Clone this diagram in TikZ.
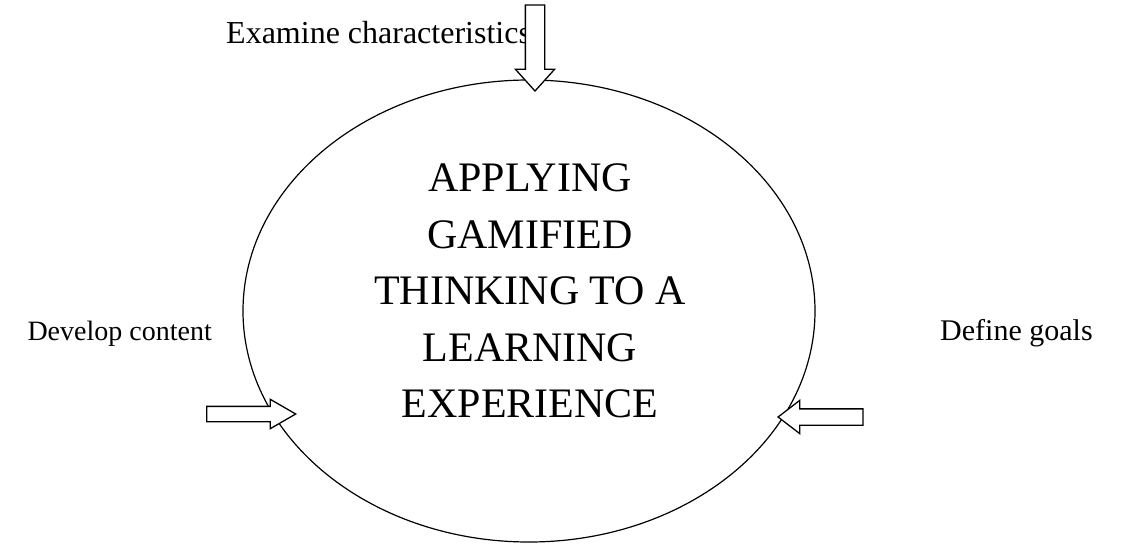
\documentclass[tikz,border=0pt]{standalone}
\usepackage{fontspec}
\setmainfont{Liberation Serif}
\usepackage{tikz}
\usetikzlibrary{shapes,arrows,positioning}

\begin{document}
\begin{tikzpicture}[
    x=1pt, y=-1pt,
    every node/.style={align=center},
    core/.style={ellipse, draw, line width=1.2pt, minimum width=572pt, minimum height=462pt, inner sep=0pt},
    coretext/.style={font=\fontsize{42}{56.5}\selectfont, inner sep=0pt},
    stage/.style={font=\fontsize{#1}{36}\selectfont, inner sep=0pt},
    blockarrow/.style={single arrow, draw, fill=white, line width=1.3pt, inner xsep=0pt, minimum height=#1}
]
\useasboundingbox (0,0) rectangle (1131,545);

% Central cycle
\node[core] (cycle) at (529,311) {};
\node[coretext] (cycle_text) at (530,291) {APPLYING\\GAMIFIED\\THINKING TO A\\LEARNING\\EXPERIENCE};

% Stages around the cycle
\node[stage=32, anchor=base west] (stage_examine) at (226,44) {Examine characteristics};
\node[stage=28, anchor=base east] (stage_develop) at (212,340) {Develop content};
\node[stage=30, anchor=base west] (stage_define) at (940,340) {Define goals};

% Block arrows into the cycle
\node[blockarrow=86pt, inner ysep=9pt, single arrow head extend=10pt, single arrow tip angle=84, rotate=-90, anchor=tip] (arrow_examine) at (535,92) {};
\node[blockarrow=89pt, inner ysep=7pt, single arrow head extend=7pt, single arrow tip angle=60, anchor=tip] (arrow_develop) at (297,414) {};
\node[blockarrow=85pt, inner ysep=7.5pt, single arrow head extend=8.5pt, single arrow tip angle=75, rotate=180, anchor=tip] (arrow_define) at (777,417) {};

\end{tikzpicture}
\end{document}
